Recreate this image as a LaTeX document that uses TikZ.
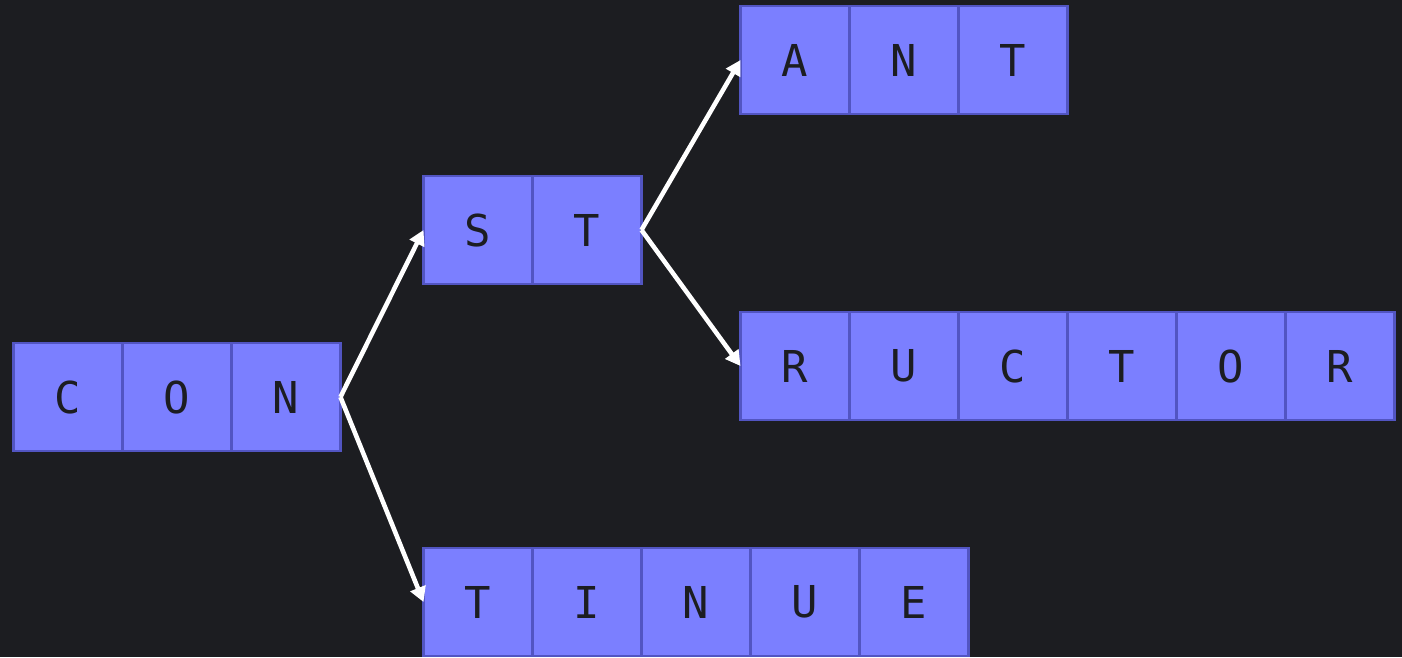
\documentclass[tikz,border=0pt]{standalone}
\usepackage{fontspec}
\setmonofont{DejaVu Sans Mono}
\usetikzlibrary{arrows.meta, positioning}
\definecolor{bgdark}{HTML}{1C1D21}
\definecolor{cellfill}{HTML}{7B7FFF}
\definecolor{celledge}{HTML}{5255C2}
\definecolor{celltext}{HTML}{1C1D21}

\begin{document}
\begin{tikzpicture}[
    x=0.02cm, y=-0.02cm,
    node distance=0pt,
    cell/.style={rectangle, draw=celledge, fill=cellfill, line width=1.4pt, outer sep=0pt, minimum width=2.18cm, minimum height=2.16cm, inner sep=0pt, text=celltext, font=\ttfamily\fontsize{25}{25}\selectfont},
    arrow/.style={-{Triangle[length=8.5pt, width=9pt]}, line width=2.6pt, draw=white}
]
\fill[bgdark] (0,0) rectangle (1402,657);
\useasboundingbox (0,0) rectangle (1402,657);
% CON
\node[cell] (con1) at (68,397) {C};
\node[cell, right=of con1] (con2) {O};
\node[cell, right=of con2] (con3) {N};
% ST
\node[cell] (st1) at (478,230) {S};
\node[cell, right=of st1] (st2) {T};
% ANT
\node[cell] (ant1) at (795,60) {A};
\node[cell, right=of ant1] (ant2) {N};
\node[cell, right=of ant2] (ant3) {T};
% RUCTOR
\node[cell] (ructor1) at (795,366) {R};
\node[cell, right=of ructor1] (ructor2) {U};
\node[cell, right=of ructor2] (ructor3) {C};
\node[cell, right=of ructor3] (ructor4) {T};
\node[cell, right=of ructor4] (ructor5) {O};
\node[cell, right=of ructor5] (ructor6) {R};
% TINUE
\node[cell] (tinue1) at (478,602) {T};
\node[cell, right=of tinue1] (tinue2) {I};
\node[cell, right=of tinue2] (tinue3) {N};
\node[cell, right=of tinue3] (tinue4) {U};
\node[cell, right=of tinue4] (tinue5) {E};
% links
\draw[arrow] (con3.east) -- (st1.west);
\draw[arrow] (con3.east) -- (tinue1.west);
\draw[arrow] (st2.east) -- (ant1.west);
\draw[arrow] (st2.east) -- (ructor1.west);
\end{tikzpicture}
\end{document}
